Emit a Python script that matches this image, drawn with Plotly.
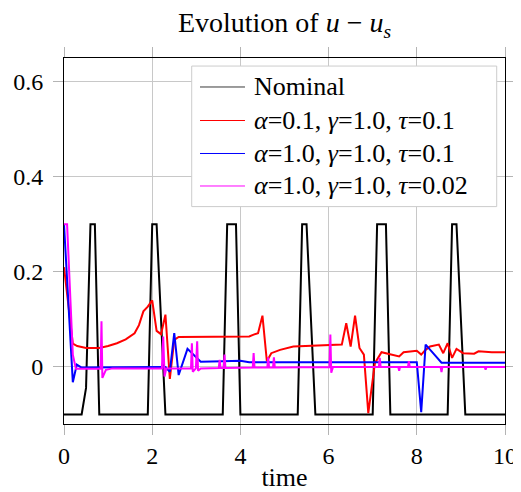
import plotly.graph_objects as go

# ---------------- data ----------------
nominal_t = [0, 0.4, 0.5, 0.6, 0.7, 0.8, 1.9, 2.0, 2.1, 2.3, 3.6, 3.7, 3.9, 4.0,
             5.3, 5.4, 5.5, 5.7, 7.0, 7.1, 7.3, 7.4, 8.7, 8.8, 8.9, 9.1, 10]
nominal_u = [-0.1, -0.1, -0.044, 0.3, 0.3, -0.1, -0.1, 0.3, 0.3, -0.1, -0.1, 0.3, 0.3, -0.1,
             -0.1, 0.3, 0.3, -0.1, -0.1, 0.3, 0.3, -0.1, -0.1, 0.3, 0.3, -0.1, -0.1]

red_t = [0, 0.2, 0.3, 0.5, 0.8, 1.0, 1.2, 1.4, 1.6, 1.7, 1.8, 1.9, 2.0, 2.1, 2.2, 2.3,
         2.4, 2.5, 2.6, 3.0, 3.5, 4.1, 4.2, 4.3, 4.4, 4.5, 4.6, 4.7, 4.9, 5.2, 5.7,
         6.3, 6.4, 6.5, 6.6, 6.7, 6.8, 6.9, 7.05, 7.2, 7.6, 7.7, 8.0, 8.1, 8.2, 8.3,
         8.5, 8.6, 8.7, 8.8, 8.9, 9.05, 9.3, 9.4, 9.7, 10]
red_u = [0.21, 0.049, 0.044, 0.040, 0.040, 0.044, 0.050, 0.058, 0.071, 0.088, 0.117, 0.127,
         0.140, 0.076, 0.069, 0.110, -0.025, 0.057, 0.063, 0.063, 0.063, 0.063, 0.064, 0.068,
         0.071, 0.108, 0.012, 0.029, 0.036, 0.043, 0.045, 0.047, 0.092, 0.043, 0.108, 0.040,
         0.026, -0.097, 0.008, 0.031, 0.022, 0.031, 0.034, 0.026, 0.036, 0.043, 0.047,
         0.029, 0.050, 0.019, 0.038, 0.029, 0.028, 0.033, 0.031, 0.031]

blue_t = [0, 0.2, 0.29, 0.39, 2.3, 2.4, 2.5, 2.6, 2.8, 2.9, 2.95, 3.1, 3.6, 4.0, 4.2,
          8.0, 8.1, 8.2, 8.4, 8.56, 10]
blue_u = [0.3, -0.032, 0.005, -0.001, 0.0, -0.01, 0.071, -0.017, 0.038, 0.029, 0.026, 0.011,
          0.012, 0.013, 0.010, 0.010, -0.095, 0.047, 0.026, 0.009, 0.009]

mag_t = [0, 0.07, 0.2, 0.27, 0.83, 0.85, 0.87, 0.95, 1.1, 2.22, 2.25, 2.28, 2.32, 2.88,
         2.90, 2.92, 2.99, 3.02, 3.04, 3.1, 3.51, 3.53, 3.55, 3.62, 3.64, 3.66, 4.28,
         4.30, 4.32, 4.61, 4.63, 4.65, 4.74, 4.76, 4.78, 6.02, 6.04, 6.06, 6.1, 7.14,
         7.16, 7.18, 7.58, 7.60, 7.62, 7.80, 7.82, 7.84, 8.54, 8.56, 8.58, 9.54, 9.56,
         9.58, 10]
mag_u = [0.3, 0.3, 0.026, -0.004, -0.004, 0.096, -0.023, -0.006, -0.003, -0.003, 0.064,
         -0.02, -0.003, -0.003, 0.050, -0.01, -0.003, 0.054, -0.008, -0.003, -0.002, 0.015,
         -0.002, -0.002, 0.026, -0.002, -0.001, 0.029, -0.001, -0.001, 0.02, -0.001, -0.001,
         0.02, -0.001, 0.0, 0.068, -0.012, 0.0, 0.0, 0.019, 0.0, 0.0, -0.008, 0.0, 0.0, 0.012,
         0.0, 0.0, -0.011, 0.0, 0.0, -0.006, 0.0, 0.0]

legend_names = ["Nominal",
                "<i>α</i>=0.1, <i>γ</i>=1.0, <i>τ</i>=0.1",
                "<i>α</i>=1.0, <i>γ</i>=1.0, <i>τ</i>=0.1",
                "<i>α</i>=1.0, <i>γ</i>=1.0, <i>τ</i>=0.02"]
colors = ["#000000", "#ff0000", "#0000ff", "#ff00ff"]
legend_colors = ["#3a3a3a", "#ff0000", "#0000ff", "#ff00ff"]

x_ticks = [0, 2, 4, 6, 8, 10]
y_ticks = [0, 0.2, 0.4, 0.6]
y_tick_labels = ["0", "0.2", "0.4", "0.6"]

FONT = "Liberation Serif"

fig = go.Figure()
series = [(nominal_t, nominal_u), (red_t, red_u), (blue_t, blue_u), (mag_t, mag_u)]
for (t, u), c, name in zip(series, colors, legend_names):
    fig.add_trace(go.Scatter(x=t, y=u, mode="lines", line=dict(color=c, width=2),
                             name=name, showlegend=False, hoverinfo="skip"))

# ---- manual legend (paper coordinates) ----
box_x0, box_x1, box_y0, box_y1 = 0.2896, 0.9812, 0.594, 0.978
row_y = [0.9208, 0.8292, 0.7391, 0.6503]
fig.add_shape(type="rect", xref="paper", yref="paper", x0=box_x0, x1=box_x1,
              y0=box_y0, y1=box_y1, line=dict(color="#cccccc", width=1),
              fillcolor="white", layer="above")
for name, c, ry in zip(legend_names, legend_colors, row_y):
    fig.add_shape(type="line", xref="paper", yref="paper", x0=0.3084, x1=0.4104,
                  y0=ry, y1=ry, line=dict(color=c, width=1), layer="above")
    fig.add_annotation(xref="paper", yref="paper", x=0.4263, y=ry, text=name,
                       showarrow=False, xanchor="left", yanchor="middle",
                       font=dict(family=FONT, size=26, color="black"))

axis_common = dict(showgrid=True, gridcolor="#c8c8c8", gridwidth=1,
                   showline=True, linecolor="black", linewidth=1, mirror="ticks",
                   ticks="outside", ticklen=10, tickcolor="#b4b4b4", tickwidth=1,
                   zeroline=False, automargin=False,
                   tickfont=dict(family=FONT, size=24, color="black"))

# the page adds an 8px body margin, so the figure is 8px smaller than the window
fig.update_layout(
    width=513, height=484,
    margin=dict(l=56, r=16, t=50, b=68, autoexpand=False),
    paper_bgcolor="white", plot_bgcolor="white",
    font=dict(family=FONT, color="black"),
    title=dict(text="Evolution of <i>u</i> − <i>u</i><sub><i>s</i></sub>",
               font=dict(family=FONT, size=28, color="black"),
               xref="paper", x=0.5, xanchor="center",
               yref="container", y=0.971, yanchor="middle", automargin=False),
    xaxis=dict(range=[0, 10], tickvals=x_ticks, ticklabelstandoff=0,
               title=dict(text="time", font=dict(family=FONT, size=26), standoff=3),
               **axis_common),
    yaxis=dict(range=[-0.12, 0.65], tickvals=y_ticks, ticktext=y_tick_labels,
               ticklabelstandoff=5, **axis_common),
    showlegend=False,
)

fig.write_html("out.html")
